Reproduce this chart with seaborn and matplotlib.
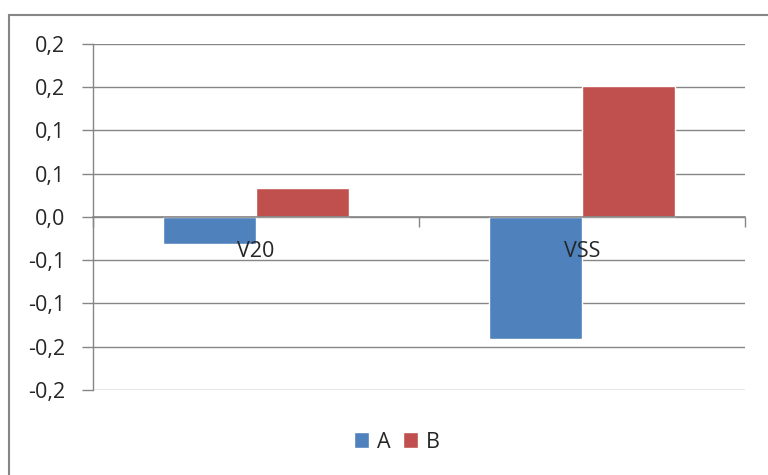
import matplotlib
matplotlib.use('Agg')
import matplotlib.pyplot as plt
from matplotlib.patches import Rectangle
from matplotlib.ticker import FuncFormatter, FixedLocator
from matplotlib.transforms import offset_copy
import numpy as np
import pandas as pd
import seaborn as sns

categories = ['V20', 'VSS']
series_names = ['A', 'B']
values_a = [-0.031, -0.141]
values_b = [0.033, 0.151]
colors = ['#4F81BD', '#C0504D']
y_ticks = [-0.2, -0.15, -0.1, -0.05, 0.0, 0.05, 0.1, 0.15, 0.2]

df = pd.DataFrame({
    'cat': categories * 2,
    'series': [series_names[0]] * 2 + [series_names[1]] * 2,
    'val': values_a + values_b,
})

sns.set_style('white')
plt.rcParams['font.family'] = ['Open Sans', 'DejaVu Sans']
FS = 15.5

fig = plt.figure(figsize=(7.68, 4.75), dpi=100)
ax = fig.add_axes([93 / 768, 1 - 390 / 475, (745 - 93) / 768, (390 - 43.7) / 475])

sns.barplot(data=df, x='cat', y='val', hue='series', palette=colors,
            width=0.57, saturation=1, ax=ax, legend=True)

grid_c = '#868686'
ax.set_xlim(-0.5, 1.5)
ax.set_ylim(-0.2, 0.2)
ax.set_yticks(y_ticks)
ax.yaxis.grid(True, color=grid_c, linewidth=1)
ax.set_axisbelow(True)


def fmt(v, pos):
    # excel-style rounding to one decimal, comma separator
    r = np.sign(v) * np.floor(abs(v) * 10 + 0.5 + 1e-9) / 10
    return f'{r:.1f}'.replace('.', ',')


ax.yaxis.set_major_formatter(FuncFormatter(fmt))
ax.tick_params(axis='y', length=8, width=1, color=grid_c, labelsize=FS, pad=12, left=True)

for s in ['top', 'right']:
    ax.spines[s].set_visible(False)
ax.spines['left'].set_color(grid_c)
ax.spines['left'].set_linewidth(1)
ax.spines['bottom'].set_position(('data', 0))
ax.spines['bottom'].set_color(grid_c)
ax.spines['bottom'].set_linewidth(1.2)
ax.spines['bottom'].set_zorder(3)

ax.xaxis.set_minor_locator(FixedLocator([-0.5, 0.5, 1.5]))
ax.tick_params(axis='x', which='major', length=0, labelbottom=False)
ax.tick_params(axis='x', which='minor', length=7, width=1, color=grid_c, direction='out', bottom=True)
ax.set_xlabel('')
ax.set_ylabel('')

# category labels drawn on top of bars, just under the zero line
for i, c in enumerate(categories):
    ax.text(i, 0, c, transform=offset_copy(ax.transData, fig=fig, x=0, y=-25, units='points'),
            ha='center', va='center', fontsize=FS, zorder=10)

handles, labels = ax.get_legend_handles_labels()
ax.legend(handles, labels, loc='center', bbox_to_anchor=(397 / 768, 1 - 442 / 475),
          bbox_transform=fig.transFigure, ncol=2, frameon=False, fontsize=FS,
          handlelength=0.7, handleheight=0.7, handletextpad=0.35, columnspacing=0.6)

fig.patches.append(Rectangle((9 / 768, -0.1), 1.2, 1 - 15 / 475 + 0.1,
                             transform=fig.transFigure, fill=False,
                             edgecolor=grid_c, linewidth=1.5))

fig.savefig('out.png', dpi=100)
